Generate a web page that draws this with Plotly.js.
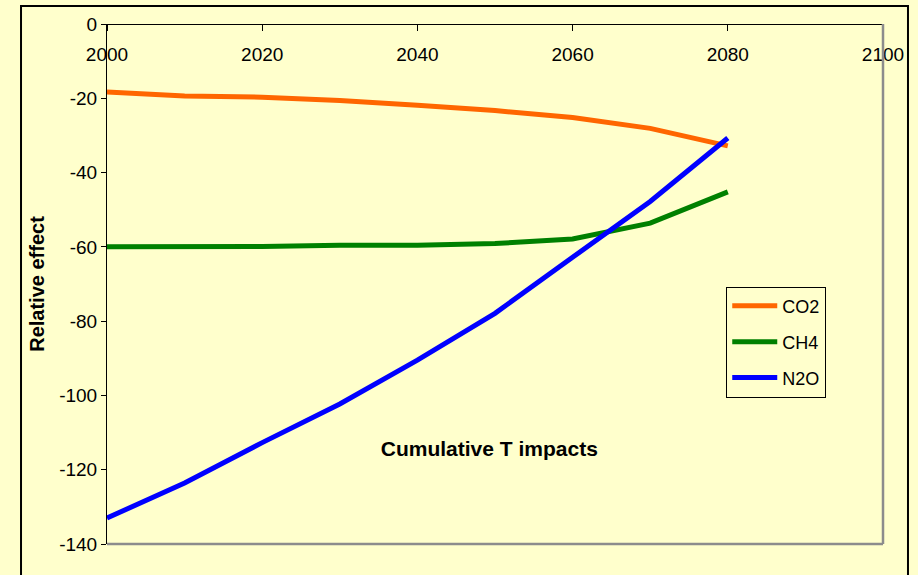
<!DOCTYPE html>
<html>
<head>
<meta charset="utf-8">
<script src="https://cdn.plot.ly/plotly-3.0.1.min.js"></script>
<style>
  html, body { margin: 0; padding: 0; background: #FFFFCC; }
  #chart { width: 918px; height: 575px; }
</style>
</head>
<body>
<div id="chart"></div>
<script>
// Years on the horizontal axis
const years = [2000, 2010, 2020, 2030, 2040, 2050, 2060, 2070, 2080];

// Relative effect of each gas
const co2 = [-18.3, -19.4, -19.7, -20.6, -21.9, -23.3, -25.2, -28.1, -32.8];
const ch4 = [-60.0, -60.0, -59.9, -59.6, -59.6, -59.1, -57.9, -53.6, -45.2];
const n2o = [-133.0, -123.6, -112.7, -102.3, -90.5, -77.9, -62.8, -47.8, -30.7];

const seriesNames = ['CO2', 'CH4', 'N2O'];
const seriesColors = ['#FF6600', '#008000', '#0000FF'];

const xTicks = [2000, 2020, 2040, 2060, 2080, 2100];
const yTicks = [0, -20, -40, -60, -80, -100, -120, -140];

const FONT = '"Liberation Sans", Arial, sans-serif';
const BG = '#FFFFCC';

const traces = [co2, ch4, n2o].map((vals, i) => ({
  type: 'scatter',
  mode: 'lines',
  x: years,
  y: vals,
  name: seriesNames[i],
  legendgroup: seriesNames[i],
  line: { color: seriesColors[i], width: 5 },
  hoverinfo: 'x+y+name'
}));

const layout = {
  width: 918,
  height: 575,
  paper_bgcolor: BG,
  plot_bgcolor: BG,
  margin: { l: 107, r: 35, t: 24, b: 31, pad: 0 },
  font: { family: FONT, color: '#000000', size: 19 },
  title: {
    text: '<b>Cumulative T impacts</b>',
    font: { family: FONT, size: 21, color: '#000000' },
    x: 0.533,
    xanchor: 'center',
    y: 0.219,
    yanchor: 'middle'
  },
  xaxis: {
    range: [2000, 2100],
    tickvals: xTicks,
    ticktext: xTicks.map(String),
    anchor: 'free',
    position: 1,
    side: 'bottom',
    ticks: 'outside',
    ticklen: 6,
    tickcolor: '#000000',
    ticklabelstandoff: 7,
    showline: true,
    linecolor: '#000000',
    linewidth: 1,
    showgrid: false,
    zeroline: false,
    tickfont: { family: FONT, size: 19, color: '#000000' }
  },
  yaxis: {
    range: [-140, 0],
    tickvals: yTicks,
    ticktext: yTicks.map(String),
    ticks: 'outside',
    ticklen: 5,
    tickcolor: '#000000',
    showline: true,
    linecolor: '#000000',
    linewidth: 1,
    showgrid: false,
    zeroline: false,
    tickfont: { family: FONT, size: 19, color: '#000000' },
    title: {
      text: '<b>Relative effect</b>',
      font: { family: FONT, size: 20, color: '#000000' },
      standoff: 9
    }
  },
  showlegend: true,
  legend: {
    x: 0.798,
    y: 0.495,
    xanchor: 'left',
    yanchor: 'top',
    bgcolor: BG,
    bordercolor: '#000000',
    borderwidth: 1,
    traceorder: 'grouped',
    tracegroupgap: 9.5,
    itemwidth: 45,
    font: { family: FONT, size: 18, color: '#000000' }
  },
  shapes: [
    // grey right and bottom edges of the plot area
    { type: 'line', xref: 'paper', yref: 'paper', x0: 1, x1: 1, y0: 0, y1: 1,
      line: { color: '#8C8C8C', width: 2.5 } },
    { type: 'line', xref: 'paper', yref: 'paper', x0: 0, x1: 1, y0: 0, y1: 0,
      line: { color: '#8C8C8C', width: 2.5 } },
    // outer chart frame
    { type: 'rect', xref: 'paper', yref: 'paper',
      x0: -0.1108, x1: 1.0322, y0: -0.08, y1: 1.0346,
      line: { color: '#000000', width: 2 }, fillcolor: 'rgba(0,0,0,0)' }
  ]
};

Plotly.newPlot('chart', traces, layout, { displayModeBar: false, staticPlot: true });
</script>
</body>
</html>
